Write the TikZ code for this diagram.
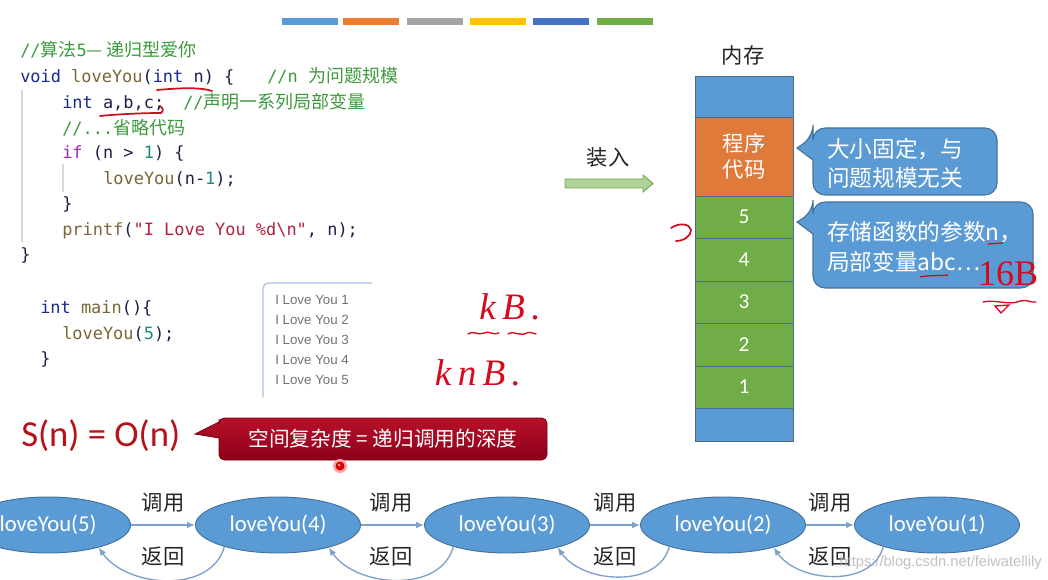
\documentclass[tikz,border=0pt]{standalone}
\usepackage{fontspec}
\setmainfont{Carlito}
\newfontfamily\cjk{Noto Sans CJK SC}
\newfontfamily\codefont{DejaVu Sans Mono}
\newfontfamily\arialf{Liberation Sans}
\newfontfamily\handf{Liberation Serif}
\usetikzlibrary{shapes.geometric,arrows.meta}
\definecolor{barA}{HTML}{5B9BD5}
\definecolor{barB}{HTML}{ED7D31}
\definecolor{barC}{HTML}{A5A5A5}
\definecolor{barD}{HTML}{FFC000}
\definecolor{barE}{HTML}{4472C4}
\definecolor{barF}{HTML}{70AD47}
\definecolor{blueF}{HTML}{5B9BD5}
\definecolor{blueD}{HTML}{41719C}
\definecolor{orangeF}{HTML}{E07A3A}
\definecolor{greenF}{HTML}{70AD47}
\definecolor{memD}{HTML}{4A6E8A}
\definecolor{ckw}{HTML}{1A2B8C}
\definecolor{cfn}{HTML}{7A6535}
\definecolor{cnum}{HTML}{1A8A7A}
\definecolor{cif}{HTML}{A326B8}
\definecolor{cstr}{HTML}{B3203C}
\definecolor{ccmt}{HTML}{3C9A3C}
\definecolor{cpl}{HTML}{1C1F4A}
\definecolor{ink}{HTML}{D40A1E}
\definecolor{sred}{HTML}{B5121B}
\definecolor{calT}{HTML}{B8102A}
\definecolor{calB}{HTML}{8E0018}
\definecolor{arrC}{HTML}{7EA0CB}
\definecolor{outC}{HTML}{A8C2E0}
\newcommand\codekw[1]{\textcolor{ckw}{#1}}
\newcommand\codefn[1]{\textcolor{cfn}{#1}}
\newcommand\codenum[1]{\textcolor{cnum}{#1}}
\newcommand\codeif[1]{\textcolor{cif}{#1}}
\newcommand\codestr[1]{\textcolor{cstr}{#1}}
\newcommand\codecmt[1]{\textcolor{ccmt}{#1}}
\newcommand\zh[1]{{\cjk\fontsize{13.5}{15}\selectfont #1}}
\tikzset{
  code/.style={anchor=base west, inner sep=0pt, text=cpl, font=\codefont\fontsize{12.7}{14}\selectfont},
  outtxt/.style={anchor=west, inner sep=0pt, text=black!55, font=\arialf\fontsize{10}{12}\selectfont},
  hand/.style={text=ink, font=\handf\itshape\fontsize{28}{30}\selectfont, inner sep=0pt},
  inkline/.style={draw=ink, line width=1.3pt, line cap=round},
  memblk/.style={draw=memD, line width=0.7pt, minimum width=73.5pt, inner sep=0pt, outer sep=0pt, text=white, font=\fontsize{16}{19}\selectfont},
  callbox/.style={fill=blueF, draw=blueD, line width=0.8pt},
  calltxt/.style={anchor=west, align=left, inner sep=0pt, text=white, font=\cjk\fontsize{17}{22}\selectfont},
  fcall/.style={ellipse, fill=blueF, draw=blueD, line width=0.7pt, minimum width=123.75pt, minimum height=42pt, inner sep=0pt, text=white, font=\fontsize{17}{20}\selectfont},
  callarr/.style={draw=arrC, line width=1pt, -{Latex[length=6pt,width=5pt]}},
  lbl/.style={inner sep=0pt, text=black!85, font=\cjk\fontsize{16}{18}\selectfont}
}
\begin{document}
\begin{tikzpicture}[x=0.75pt,y=-0.75pt]
\clip (0,0) rectangle (1048,580);
\fill[white] (0,0) rectangle (1048,580);
% top colour bars
\fill[barA] (282,18) rectangle (338,25);
\fill[barB] (343,18) rectangle (399,25);
\fill[barC] (407,18) rectangle (463,25);
\fill[barD] (470,18) rectangle (526,25);
\fill[barE] (533,18) rectangle (589,25);
\fill[barF] (597,18) rectangle (653,25);
% code guides
\draw[black!15, line width=0.8pt] (22,90) -- (22,242);
\draw[black!15, line width=0.8pt] (63,164) -- (63,192);
% code
\node[code] (l1) at (20,57) {\codecmt{//\zh{算法}5\zh{— 递归型爱你}}};
\node[code] (l2) at (20,83) {\codekw{void} \codefn{loveYou}(\codekw{int} n) \{};
\node[code] (l2c) at (267,83) {\codecmt{//n \zh{为问题规模}}};
\node[code] (l3) at (62,109) {\codekw{int} a,b,c;};
\node[code] (l3c) at (183,109) {\codecmt{//\zh{声明一系列局部变量}}};
\node[code] (l4) at (62,135) {\codecmt{//...\zh{省略代码}}};
\node[code] (l5) at (62,159) {\codeif{if} (n > \codenum{1}) \{};
\node[code] (l6) at (103,185) {\codefn{loveYou}(n-\codenum{1});};
\node[code] (l7) at (62,210) {\}};
\node[code] (l8) at (62,236) {\codefn{printf}(\codestr{"I Love You \%d\textbackslash n"}, n);};
\node[code] (l9) at (20,261) {\}};
\node[code] (m1) at (40,314) {\codekw{int} \codefn{main}()\{};
\node[code] (m2) at (62,340) {\codefn{loveYou}(\codenum{5});};
\node[code] (m3) at (40,364) {\}};
% red underlines in code
\draw[inkline] (157,90) .. controls (180,88) and (200,87) .. (212,91);
\draw[inkline] (100,116) .. controls (120,114) and (145,113) .. (161,113) .. controls (164,111) and (163,108) .. (160,106);
% output box
\draw[outC, line width=1pt, rounded corners=4pt] (372,283) -- (263,283) -- (263,397);
\node[outtxt] (o1) at (275,300) {I Love You 1};
\node[outtxt] (o2) at (275,320) {I Love You 2};
\node[outtxt] (o3) at (275,340) {I Love You 3};
\node[outtxt] (o4) at (275,360) {I Love You 4};
\node[outtxt] (o5) at (275,380) {I Love You 5};
% handwriting kB / knB
\node[hand] (hkb) at (510,307) {k\,B\,.};
\draw[inkline, line width=1pt] (468,334) .. controls (474,330) and (478,336) .. (484,333) .. controls (489,330) and (493,336) .. (499,333);
\draw[inkline, line width=1pt] (508,334) .. controls (514,330) and (520,337) .. (527,333) .. controls (530,331) and (533,334) .. (536,334);
\node[hand] (hknb) at (478,373) {k\,n\,B\,.};
% S(n)=O(n)
\node[anchor=west, inner sep=0pt, text=sred, font=\fontsize{27.5}{30}\selectfont] (sn) at (21,436) {S(n) = O(n)};
% red callout
\shade[top color=calT, bottom color=calB, draw=calB!80!black, line width=0.6pt]
  (195,434) -- (219,422) -- (219,419) [rounded corners=4pt] -- (219,418) -- (547,418) -- (547,460) -- (219,460) -- (219,445) [sharp corners] -- (219,438) -- cycle;
\node[inner sep=0pt, text=white, font=\cjk\fontsize{15.5}{18}\selectfont] (sc) at (383,439) {空间复杂度 = 递归调用的深度};
% laser dot
\fill[red!35] (340,466) circle (7);
\fill[red!85!black] (340,466) circle (4.5);
\fill[white!60!red] (339,465) circle (1.5);
% memory
\node[lbl] (memlbl) at (743,55) {内存};
\node[memblk, fill=blueF, minimum height=30.75pt] (mtop) at (744,96.5) {};
\node[memblk, fill=orangeF, minimum height=59.25pt, align=center, font=\cjk\fontsize{16}{20}\selectfont] (mcode) at (744,156.5) {程序\\代码};
\node[memblk, fill=greenF, minimum height=31.5pt] (m5) at (744,217) {5};
\node[memblk, fill=greenF, minimum height=32.25pt] (m4) at (744,259.5) {4};
\node[memblk, fill=greenF, minimum height=31.5pt] (m3b) at (744,302) {3};
\node[memblk, fill=greenF, minimum height=32.25pt] (m2b) at (744,344.5) {2};
\node[memblk, fill=greenF, minimum height=31.5pt] (m1b) at (744,387) {1};
\node[memblk, fill=blueF, minimum height=24.75pt] (mbot) at (744,424.5) {};
% load arrow
\node[lbl] (load) at (608,157) {装入};
\draw[fill=barF!55, draw=barF, line width=0.7pt] (565,179) -- (643,179) -- (643,175) -- (653,183.5) -- (643,192) -- (643,188) -- (565,188) -- cycle;
% callout 1
\path[callbox] (797,148) -- (813,160) -- (813,170) [rounded corners=9pt] -- (813,195) -- (997,195) -- (997,128) -- (813,128) -- (813,137) [sharp corners] -- cycle;
\node[calltxt] (ct1) at (827,163) {大小固定，与\\问题规模无关};
% callout 2
\path[callbox] (797,222) -- (813,234) -- (813,250) [rounded corners=9pt] -- (813,288) -- (1033,288) -- (1033,202) -- (813,202) -- (813,212) [sharp corners] -- cycle;
\node[calltxt] (ct2) at (827,247) {存储函数的参数n，\\局部变量abc…};
% handwriting near memory
\draw[inkline] (671,228) .. controls (680,222) and (690,224) .. (691,230) .. controls (691,236) and (684,241) .. (676,241);
\draw[inkline, line width=1pt] (988,244) -- (1003,243);
\draw[inkline, line width=1pt] (920,277) .. controls (930,275) and (940,276) .. (948,275);
\node[hand, font=\handf\fontsize{27}{28}\selectfont] (h16) at (1008,274) {16B};
\draw[inkline, line width=1pt] (983,302) .. controls (995,299) and (1010,306) .. (1020,301) .. controls (1026,299) and (1031,303) .. (1036,302);
\draw[inkline, line width=1pt] (995,306) -- (1009,305) -- (1001,313) -- cycle;
% call chain
\node[fcall] (e5) at (48,525) {loveYou(5)};
\node[fcall] (e4) at (278,525) {loveYou(4)};
\node[fcall] (e3) at (507,525) {loveYou(3)};
\node[fcall] (e2) at (723,525) {loveYou(2)};
\node[fcall] (e1) at (937,525) {loveYou(1)};
\draw[callarr] (e5.east) -- (e4.west);
\draw[callarr] (e4.east) -- (e3.west);
\draw[callarr] (e3.east) -- (e2.west);
\draw[callarr] (e2.east) -- (e1.west);
\draw[callarr] (e4.-158) to[out=-105,in=-55] (e5.-24);
\draw[callarr] (e3.-158) to[out=-105,in=-55] (e4.-24);
\draw[callarr] (e2.-158) to[out=-105,in=-55] (e3.-24);
\draw[callarr] (e1.-158) to[out=-105,in=-55] (e2.-24);
\node[lbl] (c54) at (163,503) {调用};
\node[lbl] (c43) at (391,503) {调用};
\node[lbl] (c32) at (615,503) {调用};
\node[lbl] (c21) at (830,503) {调用};
\node[lbl] (r45) at (163,557) {返回};
\node[lbl] (r34) at (391,557) {返回};
\node[lbl] (r23) at (615,557) {返回};
\node[lbl] (r12) at (830,557) {返回};
% watermark
\node[anchor=east, inner sep=0pt, text=black!30, opacity=0.8, font=\arialf\fontsize{11}{13}\selectfont] (wm) at (1042,563) {https://blog.csdn.net/feiwatellily};
\end{tikzpicture}
\end{document}
